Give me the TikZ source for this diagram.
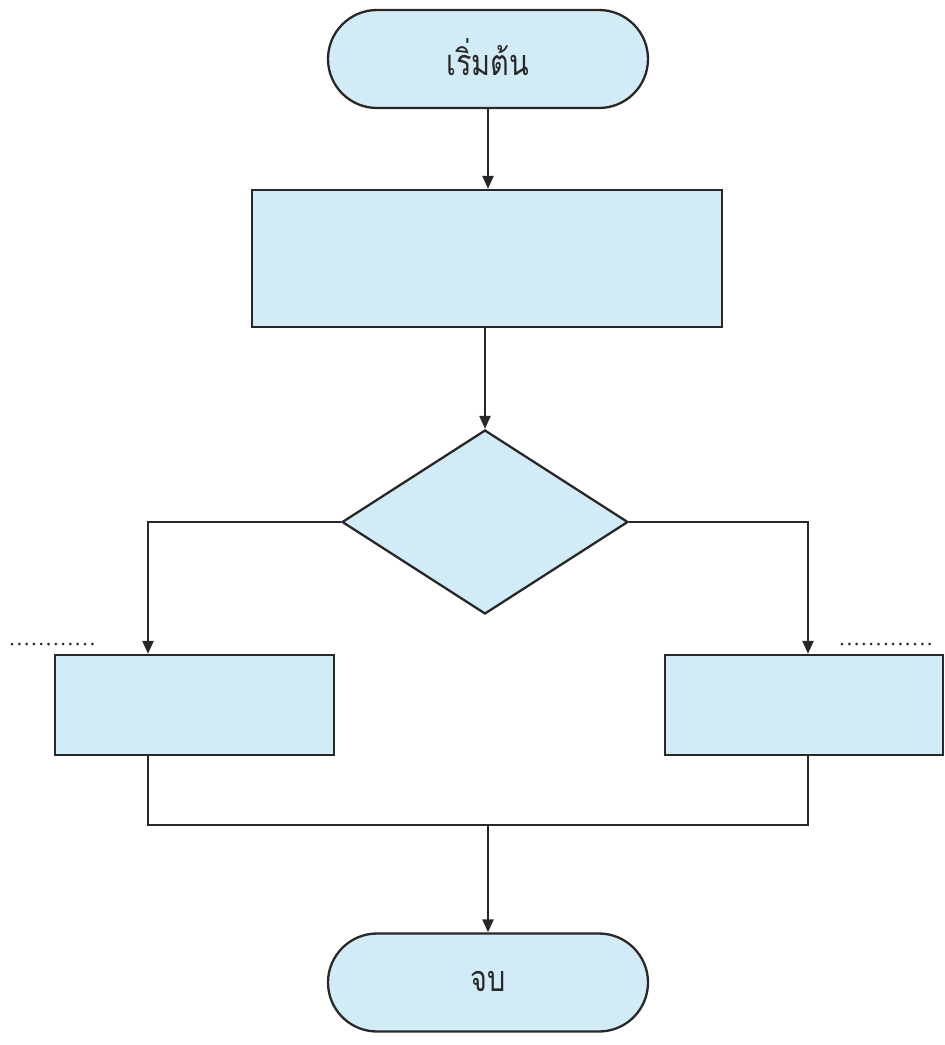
\documentclass[tikz,border=0pt]{standalone}
\usepackage{fontspec}
\newfontfamily\thaifont[Script=Thai,FakeStretch=0.8]{Loma}
\usetikzlibrary{shapes.geometric,shapes.misc,arrows.meta}
\definecolor{boxfill}{HTML}{D2ECF7}
\definecolor{linec}{HTML}{2A2728}
\tikzset{
  conn/.style={line width=2.3pt, draw=linec},
  terminal/.style={draw=linec, line width=2.3pt, fill=boxfill, rounded rectangle, minimum width=320pt, minimum height=98pt, inner sep=0pt, font=\thaifont\fontsize{36}{40}\selectfont, text=linec},
  procbox/.style={draw=linec, line width=2.3pt, fill=boxfill, rectangle, inner sep=0pt},
  decbox/.style={draw=linec, line width=2.3pt, fill=boxfill, diamond, minimum width=286pt, minimum height=184pt, inner sep=0pt},
  arr/.style={conn, -{Triangle[width=11pt,length=13pt]}},
  dotline/.style={line width=3pt, draw=linec, dash pattern=on 0pt off 7.3pt, line cap=round}
}
\begin{document}
\begin{tikzpicture}[x=1pt,y=-1pt]
\useasboundingbox (0,0) rectangle (945,1045);
\node[terminal] (start) at (488,59) {\raisebox{4pt}{เริ่มต้น}};
\node[procbox, minimum width=470pt, minimum height=137pt] (proc) at (487,258.5) {};
\node[decbox] (dec) at (485,522) {};
\node[procbox, minimum width=279pt, minimum height=100pt] (lbox) at (194.5,705) {};
\node[procbox, minimum width=278pt, minimum height=100pt] (rbox) at (804,705) {};
\node[terminal] (stop) at (488,982.5) {\raisebox{3pt}{จบ}};
\coordinate (lcorner) at (148,522);
\coordinate (rcorner) at (808,522);
\coordinate (lbot) at (148,825);
\coordinate (rbot) at (808,825);
\coordinate (mbot) at (488,825);
\coordinate (ld1) at (12,644);
\coordinate (ld2) at (99,644);
\coordinate (rd1) at (842,644);
\coordinate (rd2) at (931,644);
\draw[arr] (start.south) -- (proc.north -| start.south);
\draw[arr] (proc.south -| dec.north) -- (dec.north);
\draw[arr] (dec.west) -- (lcorner) -- (lcorner |- lbox.north);
\draw[arr] (dec.east) -- (rcorner) -- (rcorner |- rbox.north);
\draw[conn] (lbot |- lbox.south) -- (lbot) -- (rbot) -- (rbot |- rbox.south);
\draw[arr] (mbot) -- (stop.north);
\draw[dotline] (ld1) -- (ld2);
\draw[dotline] (rd1) -- (rd2);
\end{tikzpicture}
\end{document}
